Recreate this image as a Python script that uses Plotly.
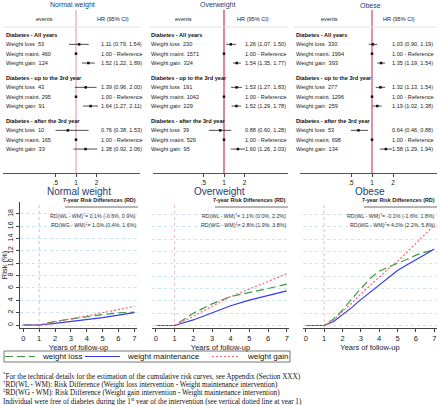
import math
import plotly.graph_objects as go

W, H = 440, 405

# ---------------- data ----------------
groups = ["Normal weight", "Overweight", "Obese"]
sections = ["Diabetes - All years", "Diabetes - up to the 3rd year", "Diabetes - after the 3rd year"]
arms = ["Weight loss", "Weight maint.", "Weight gain"]

# rows: [all: loss, maint, gain, up to 3rd: loss, maint, gain, after 3rd: loss, maint, gain]
events_normal = [53, 460, 124, 43, 295, 91, 10, 165, 33]
events_over = [230, 1571, 324, 191, 1042, 229, 39, 529, 95]
events_obese = [330, 1994, 393, 277, 1296, 259, 53, 698, 134]

hr_normal = [1.11, 1.00, 1.52, 1.39, 1.00, 1.64, 0.76, 1.00, 1.38]
lo_normal = [0.79, None, 1.22, 0.96, None, 1.27, 0.38, None, 0.92]
hi_normal = [1.54, None, 1.89, 2.00, None, 2.11, 1.53, None, 2.06]

hr_over = [1.26, 1.00, 1.54, 1.53, 1.00, 1.52, 0.88, 1.00, 1.60]
lo_over = [1.07, None, 1.35, 1.27, None, 1.29, 0.60, None, 1.26]
hi_over = [1.50, None, 1.77, 1.83, None, 1.78, 1.28, None, 2.03]

hr_obese = [1.03, 1.00, 1.35, 1.32, 1.00, 1.19, 0.64, 1.00, 1.58]
lo_obese = [0.90, None, 1.19, 1.13, None, 1.02, 0.46, None, 1.29]
hi_obese = [1.19, None, 1.54, 1.54, None, 1.38, 0.88, None, 1.94]

hr_ticks = [0.5, 1, 2]
hr_ticktext = [".5", "1", "2"]

# cumulative risk curves (%)
years_normal = [0, 1, 2, 3, 4, 5, 6, 7]
loss_normal = [0, 0, 0.6, 1.0, 1.35, 1.7, 1.95, 2.1]
maint_normal = [0, 0, 0.25, 0.55, 0.85, 1.2, 1.6, 2.0]
gain_normal = [0, 0, 0.5, 1.0, 1.5, 2.0, 2.5, 3.0]

years_over = [0, 1, 2, 3, 4, 5, 6, 7]
loss_over = [0, 0, 2.0, 3.5, 4.7, 5.3, 6.0, 6.7]
maint_over = [0, 0, 0.9, 2.1, 3.2, 4.1, 4.8, 5.6]
gain_over = [0, 0, 1.5, 3.1, 4.7, 5.9, 7.1, 8.4]

years_obese = [0, 1, 1.5, 2, 2.5, 3, 3.5, 4, 4.5, 5, 5.5, 6, 6.5, 7]
loss_obese = [0, 0, 1.0, 2.5, 4.3, 6.0, 7.6, 8.8, 9.5, 10.1, 10.7, 11.4, 11.9, 12.3]
maint_obese = [0, 0, 0.6, 1.7, 2.9, 4.2, 5.4, 6.6, 7.8, 8.9, 9.8, 10.6, 11.5, 12.4]
gain_obese = [0, 0, 0.9, 2.2, 3.6, 5.1, 6.5, 7.9, 9.2, 10.4, 11.8, 13.3, 14.8, 16.3]

rd_wl = ["0.1% (-0.6%, 0.9%)", "1.1% (0.0%, 2.2%)", "-0.1% (-1.6%, 1.8%)"]
rd_wg = ["1.0% (0.4%, 1.6%)", "2.8% (1.9%, 3.8%)", "4.0% (2.2%, 5.8%)"]

series_labels = ["weight loss", "weight maintenance", "weight gain"]

year_ticks = list(range(0, 8))
risk_ticks = list(range(0, 19, 2))

footnotes = [
    "<sup>*</sup>For the technical details for the estimation of the cumulative risk curves, see Appendix (Section XXX)",
    "<sup>†</sup>RD(WL - WM): Risk Difference (Weight loss intervention - Weight maintenance intervention)",
    "<sup>‡</sup>RD(WG - WM): Risk Difference (Weight gain intervention - Weight maintenance intervention)",
    "Individual were free of diabetes during the 1<sup>st</sup> year of the intervention (see vertical dotted line at year 1)",
]

# ---------------- layout helpers ----------------
def px(x):
    return x / W

def py(y):
    return 1 - y / H

SANS = "Liberation Sans, Arial, sans-serif"
SERIF = "Liberation Serif, Times New Roman, serif"
SMALL = 5.6
NAVY = "#1e3c78"

forest = [
    dict(events=events_normal, hr=hr_normal, lo=lo_normal, hi=hi_normal,
         dom=(3, 140), one=76, ppd=20.5, name_x=4, hr_x=99, ev_h=44, hr_h=113, title_x=72,
         rule=(4, 140), pink="#efb3c4"),
    dict(events=events_over, hr=hr_over, lo=lo_over, hi=hi_over,
         dom=(153, 288), one=224, ppd=20.5, name_x=149, hr_x=243, ev_h=183, hr_h=253, title_x=217,
         rule=(149, 288), pink="#dc5a7c"),
    dict(events=events_obese, hr=hr_obese, lo=lo_obese, hi=hi_obese,
         dom=(300, 437), one=372, ppd=21, name_x=294, hr_x=390, ev_h=329, hr_h=399, title_x=370,
         rule=(294, 437), pink="#e06888"),
]

FOREST_BOTTOM = 173
sec_y = [35 + 43 * s for s in range(3)]
row_y = [sec_y[s] + 9.35 * (i + 1) for s in range(3) for i in range(3)]

fig = go.Figure()
annotations = []
shapes = []

for p, f in enumerate(forest):
    xa = "x" if p == 0 else f"x{p + 1}"
    wx, wy = [], []
    for k in range(9):
        if f["lo"][k] is not None:
            wx += [max(f["lo"][k], 0.5), f["hi"][k], None]
            wy += [row_y[k], row_y[k], None]
    fig.add_trace(go.Scatter(x=wx, y=wy, mode="lines", xaxis=xa, yaxis="y",
                             line=dict(color="#222", width=0.8), showlegend=False, hoverinfo="skip"))
    fig.add_trace(go.Scatter(x=f["hr"], y=row_y, mode="markers", xaxis=xa, yaxis="y",
                             marker=dict(symbol="square", size=2.5, color="#111"),
                             showlegend=False))
    shapes.append(dict(type="line", xref=xa, yref="y", x0=1, x1=1, y0=10, y1=FOREST_BOTTOM,
                       line=dict(color=f["pink"], width=1.5), layer="below"))
    shapes.append(dict(type="line", xref="paper", yref="y", x0=px(f["rule"][0]), x1=px(f["rule"][1]),
                       y0=27, y1=27, line=dict(color="#e2e2e2", width=1)))
    annotations.append(dict(text=groups[p], x=px(f["title_x"]), y=py(5), xref="paper", yref="paper",
                            showarrow=False, font=dict(family=SANS, size=7, color=NAVY),
                            xanchor="center", yanchor="middle"))
    annotations.append(dict(text="events", x=px(f["ev_h"]), y=19, xref="paper", yref="y",
                            showarrow=False, font=dict(family=SANS, size=SMALL, color="#222"),
                            xanchor="center", yanchor="middle"))
    annotations.append(dict(text="HR (95% CI)", x=px(f["hr_h"]), y=19, xref="paper", yref="y",
                            showarrow=False, font=dict(family=SANS, size=SMALL, color="#222"),
                            xanchor="center", yanchor="middle"))
    for s in range(3):
        annotations.append(dict(text="<b>" + sections[s] + "</b>", x=px(f["name_x"]), y=sec_y[s],
                                xref="paper", yref="y", showarrow=False,
                                font=dict(family=SANS, size=SMALL, color="#111"),
                                xanchor="left", yanchor="middle"))
    for k in range(9):
        arm = arms[k % 3]
        sep = "\u00a0\u00a0" if k % 3 != 1 else "\u00a0"
        annotations.append(dict(text=f"{arm}{sep}{f['events'][k]}", x=px(f["name_x"]), y=row_y[k],
                                xref="paper", yref="y", showarrow=False,
                                font=dict(family=SANS, size=SMALL, color="#222"),
                                xanchor="left", yanchor="middle"))
        if f["lo"][k] is None:
            t = f"{f['hr'][k]:.2f} - Reference"
        else:
            t = f"{f['hr'][k]:.2f} ({f['lo'][k]:.2f}, {f['hi'][k]:.2f})"
        annotations.append(dict(text=t, x=px(f["hr_x"]), y=row_y[k], xref="paper", yref="y",
                                showarrow=False, font=dict(family=SANS, size=SMALL, color="#222"),
                                xanchor="left", yanchor="middle"))

# ---------------- risk curves ----------------
curves = [
    dict(years=years_normal, loss=loss_normal, maint=maint_normal, gain=gain_normal,
         dom=(20, 137), xr=(-0.21, 7.17), zero=325, title_x=79, rd_r=138),
    dict(years=years_over, loss=loss_over, maint=maint_over, gain=gain_over,
         dom=(152, 289), xr=(-0.21, 7.12), zero=325.5, title_x=219, rd_r=288),
    dict(years=years_obese, loss=loss_obese, maint=maint_obese, gain=gain_obese,
         dom=(303, 437), xr=(-0.15, 7.15), zero=325.5, title_x=370, rd_r=437),
]
TOP, BOT = 202, 328
UNIT = 6.17  # px per 1 % risk

series_style = [
    ("loss", dict(color="#3d9a3d", width=1.2, dash="8px,4px")),
    ("maint", dict(color="#3838f0", width=1.2, dash="solid")),
    ("gain", dict(color="#f06a6a", width=1.2, dash="2px,2px")),
]

layout_axes = {}
for p, c in enumerate(curves):
    n = p + 4
    xa, ya = f"x{n}", f"y{n}"
    for (key, ls), label in zip(series_style, series_labels):
        fig.add_trace(go.Scatter(x=c["years"], y=c[key], mode="lines", xaxis=xa, yaxis=ya,
                                 name=label, line=ls, showlegend=False))
    ylo = -(BOT - c["zero"]) / UNIT
    yhi = (c["zero"] - TOP) / UNIT
    layout_axes[f"xaxis{n}"] = dict(
        domain=[px(c["dom"][0]), px(c["dom"][1])], range=list(c["xr"]), anchor=ya,
        tickvals=year_ticks, ticks="outside", ticklen=3, tickcolor="#444",
        showline=True, linecolor="#444", linewidth=1, showgrid=False, zeroline=False,
        tickfont=dict(family=SANS, size=7.5, color="#222"),
        title=dict(text="Years of follow-up", font=dict(family=SANS, size=7.5, color="#222"), standoff=0),
    )
    yax = dict(
        domain=[py(BOT), py(TOP)], range=[ylo, yhi], anchor=xa,
        tickvals=risk_ticks, showgrid=True, gridcolor="#cfe5ee", griddash="dot", gridwidth=1,
        zeroline=False,
        showline=(p == 0), linecolor="#444", linewidth=1,
        ticks="outside" if p == 0 else "", ticklen=3, tickcolor="#444",
        showticklabels=(p == 0), tickangle=-90,
        tickfont=dict(family=SANS, size=7, color="#222"),
    )
    if p == 0:
        yax["title"] = dict(text="Risk (%)", font=dict(family=SANS, size=7.5, color="#222"), standoff=1)
    layout_axes[f"yaxis{n}"] = yax
    shapes.append(dict(type="line", xref=xa, yref=f"{ya} domain", x0=1, x1=1, y0=0, y1=1,
                       line=dict(color="#f5b5c5", width=1, dash="dot"), layer="below"))
    annotations.append(dict(text=groups[p], x=px(c["title_x"]), y=py(191), xref="paper", yref="paper",
                            showarrow=False, font=dict(family=SANS, size=10, color=NAVY),
                            xanchor="center", yanchor="middle"))
    annotations.append(dict(text="<b>7-year Risk Differences (RD)</b>", x=px(c["rd_r"]), y=py(200),
                            xref="paper", yref="paper", showarrow=False,
                            font=dict(family=SANS, size=5.4, color="#222"), xanchor="right", yanchor="middle"))
    shapes.append(dict(type="line", xref="paper", yref="paper", x0=px(c["rd_r"] - 73), x1=px(c["rd_r"]),
                       y0=py(207), y1=py(207), line=dict(color="#444", width=0.8)))
    annotations.append(dict(text="RD(WL - WM)<sup>†</sup>= " + rd_wl[p], x=px(c["rd_r"]), y=py(216),
                            xref="paper", yref="paper", showarrow=False,
                            font=dict(family=SANS, size=5.3, color="#333"), xanchor="right", yanchor="middle"))
    annotations.append(dict(text="RD(WG - WM)<sup>‡</sup>= " + rd_wg[p], x=px(c["rd_r"]), y=py(225),
                            xref="paper", yref="paper", showarrow=False,
                            font=dict(family=SANS, size=5.3, color="#333"), xanchor="right", yanchor="middle"))

# ---------------- legend (drawn as a box with line samples) ----------------
LEG_TOP, LEG_BOT, LEG_Y = 351, 362, 356.5
shapes.append(dict(type="rect", xref="paper", yref="paper", x0=px(4), x1=px(290),
                   y0=py(LEG_BOT), y1=py(LEG_TOP), line=dict(color="#777", width=1), fillcolor="white"))
legend_slots = [(5, 35, 40), (85, 120, 125), (212, 240, 245)]
for (key, ls), label, (s0, s1, tx) in zip(series_style, series_labels, legend_slots):
    shapes.append(dict(type="line", xref="paper", yref="paper", x0=px(s0), x1=px(s1),
                       y0=py(LEG_Y), y1=py(LEG_Y), line=ls))
    annotations.append(dict(text=label, x=px(tx), y=py(LEG_Y), xref="paper", yref="paper",
                            showarrow=False, font=dict(family=SANS, size=8, color="#111"),
                            xanchor="left", yanchor="middle"))

for i, t in enumerate(footnotes):
    annotations.append(dict(text=t, x=px(1), y=py(376 + 8.4 * i), xref="paper", yref="paper",
                            showarrow=False, font=dict(family=SERIF, size=7.2, color="#111"),
                            xanchor="left", yanchor="middle", align="left"))

forest_axes = {}
for p, f in enumerate(forest):
    key = "xaxis" if p == 0 else f"xaxis{p + 1}"
    lo = 2 ** ((f["dom"][0] - f["one"]) / f["ppd"])
    hi = 2 ** ((f["dom"][1] - f["one"]) / f["ppd"])
    forest_axes[key] = dict(
        type="log", domain=[px(f["dom"][0]), px(f["dom"][1])], range=[math.log10(lo), math.log10(hi)],
        anchor="y", tickvals=hr_ticks, ticktext=hr_ticktext, ticks="outside", ticklen=3,
        tickcolor="#444", showline=True, linecolor="#555", linewidth=1, showgrid=False, zeroline=False,
        tickfont=dict(family=SANS, size=6.5, color="#222"),
    )

fig.update_layout(
    width=W, height=H, margin=dict(l=0, r=0, t=0, b=0),
    paper_bgcolor="white", plot_bgcolor="white",
    yaxis=dict(domain=[py(FOREST_BOTTOM), 1], range=[FOREST_BOTTOM, 0], visible=False),
    **forest_axes, **layout_axes,
    shapes=shapes, annotations=annotations,
    showlegend=False,
)

fig.write_html(
    "out.html",
    config={"displayModeBar": False},
    post_script="document.body.style.margin='0';document.body.style.padding='0';"
                "document.documentElement.style.overflow='hidden';document.body.style.overflow='hidden';",
)
